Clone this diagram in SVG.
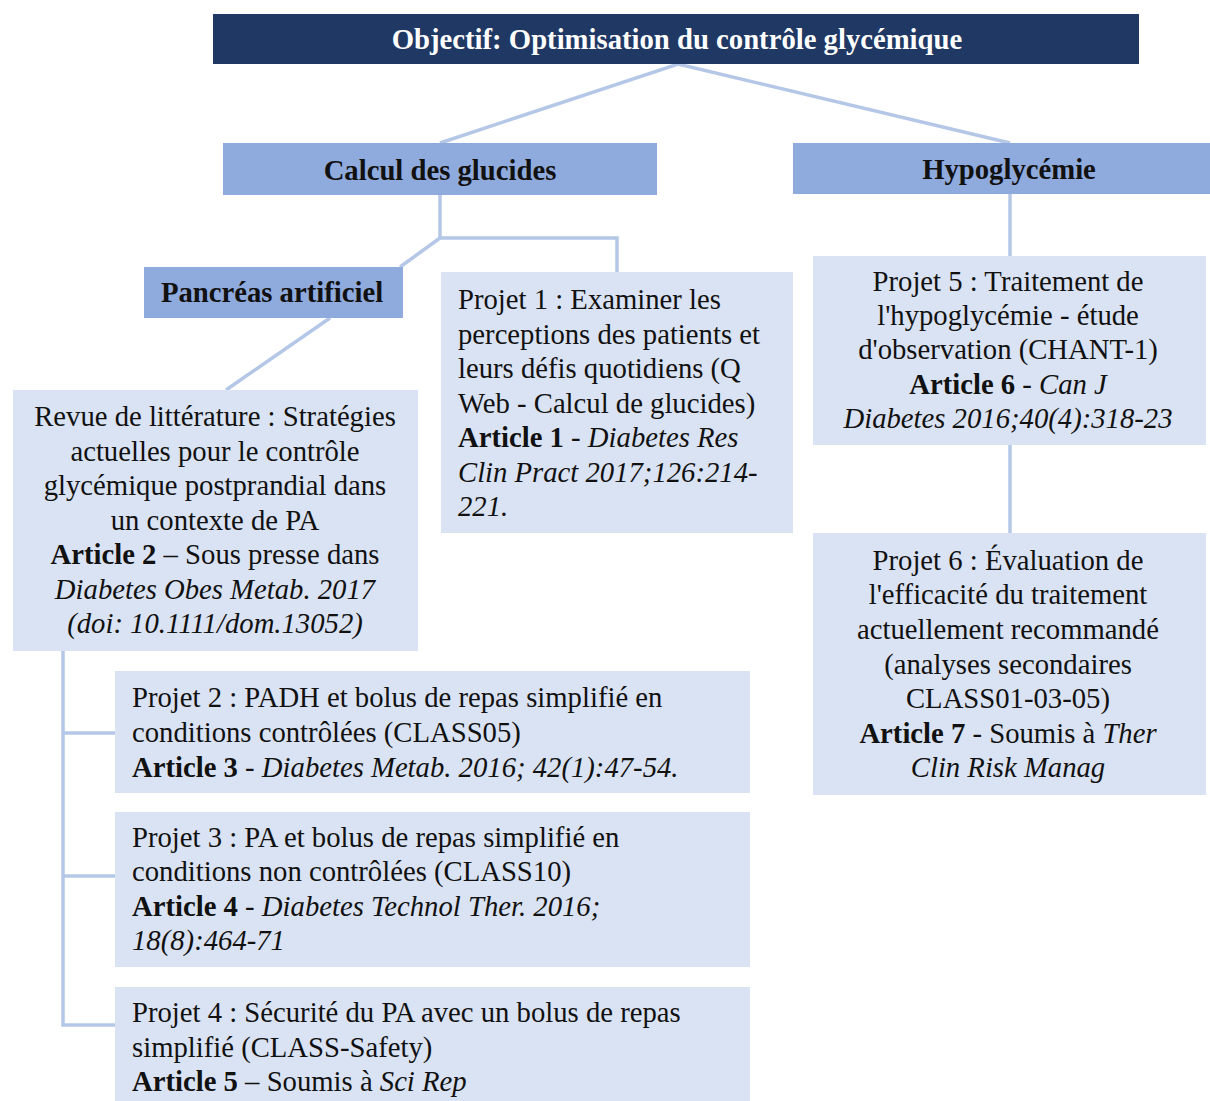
<svg xmlns="http://www.w3.org/2000/svg" width="1210" height="1101" viewBox="0 0 1210 1101">
<style>
.dark{fill:#203864}
.mid{fill:#8FAADC}
.light{fill:#DAE3F3}
.conn{stroke:#B4C7E7;stroke-width:3.5;fill:none}
text{font-family:"Liberation Serif","Times New Roman",serif;font-size:28.7px;fill:#111}
.h{font-weight:bold}
.w{fill:#fff}
.c{text-anchor:middle}
.b{font-weight:bold}
.i{font-style:italic}
</style>
<rect width="1210" height="1101" fill="#fff"/>
<g id="connectors">
<polyline class="conn" points="440,143 678,64 1010,143"/>
<polyline class="conn" points="440,195 440,238 617,238 617,272"/>
<line class="conn" x1="440" y1="238" x2="400" y2="267"/>
<line class="conn" x1="330" y1="318" x2="226" y2="390"/>
<line class="conn" x1="1010" y1="194" x2="1010" y2="256"/>
<line class="conn" x1="1010" y1="445" x2="1010" y2="533"/>
<polyline class="conn" points="63,651 63,1025 117,1025"/>
<line class="conn" x1="63" y1="733" x2="115" y2="733"/>
<line class="conn" x1="63" y1="876" x2="115" y2="876"/>
</g>
<g id="objectif">
<rect class="dark" x="213" y="14" width="926" height="50"/>
<text class="h w c" x="677" y="49">Objectif: Optimisation du contrôle glycémique</text>
</g>
<g id="calcul">
<rect class="mid" x="223" y="143" width="434" height="52"/>
<text class="h c" x="440" y="180">Calcul des glucides</text>
</g>
<g id="hypo">
<rect class="mid" x="793" y="143" width="417" height="51"/>
<text class="h c" x="1009" y="179">Hypoglycémie</text>
</g>
<g id="pancreas">
<rect class="mid" x="144" y="267" width="259" height="51"/>
<text class="h c" x="272" y="302">Pancréas artificiel</text>
</g>
<g id="projet1">
<rect class="light" x="441" y="272" width="352" height="261"/>
<text x="458" y="309">Projet 1 : Examiner les</text>
<text x="458" y="344">perceptions des patients et</text>
<text x="458" y="378">leurs défis quotidiens (Q</text>
<text x="458" y="413">Web - Calcul de glucides)</text>
<text x="458" y="447"><tspan class="b">Article 1</tspan> - <tspan class="i">Diabetes Res</tspan></text>
<text class="i" x="458" y="482">Clin Pract 2017;126:214-</text>
<text class="i" x="458" y="516">221.</text>
</g>
<g id="revue">
<rect class="light" x="13" y="390" width="405" height="261"/>
<text class="c" x="215" y="426">Revue de littérature : Stratégies</text>
<text class="c" x="215" y="461">actuelles pour le contrôle</text>
<text class="c" x="215" y="495">glycémique postprandial dans</text>
<text class="c" x="215" y="530">un contexte de PA</text>
<text class="c" x="215" y="564"><tspan class="b">Article 2</tspan> – Sous presse dans</text>
<text class="c i" x="215" y="599">Diabetes Obes Metab. 2017</text>
<text class="c i" x="215" y="633">(doi: 10.1111/dom.13052)</text>
</g>
<g id="projet5">
<rect class="light" x="813" y="256" width="393" height="189"/>
<text class="c" x="1008" y="291">Projet 5 : Traitement de</text>
<text class="c" x="1008" y="325">l'hypoglycémie - étude</text>
<text class="c" x="1008" y="359">d'observation (CHANT-1)</text>
<text class="c" x="1008" y="394"><tspan class="b">Article 6</tspan> -  <tspan class="i">Can J</tspan></text>
<text class="c i" x="1008" y="428">Diabetes 2016;40(4):318-23</text>
</g>
<g id="projet6">
<rect class="light" x="813" y="533" width="393" height="262"/>
<text class="c" x="1008" y="570">Projet 6 : Évaluation de</text>
<text class="c" x="1008" y="604">l'efficacité  du traitement</text>
<text class="c" x="1008" y="639">actuellement recommandé</text>
<text class="c" x="1008" y="674">(analyses secondaires</text>
<text class="c" x="1008" y="708">CLASS01-03-05)</text>
<text class="c" x="1008" y="743"><tspan class="b">Article 7</tspan> -  Soumis à <tspan class="i">Ther</tspan></text>
<text class="c i" x="1008" y="777">Clin Risk Manag</text>
</g>
<g id="projet2">
<rect class="light" x="115" y="671" width="635" height="122"/>
<text x="132" y="707">Projet 2 : PADH et bolus de repas simplifié  en</text>
<text x="132" y="742">conditions contrôlées (CLASS05)</text>
<text x="132" y="777"><tspan class="b">Article 3</tspan> - <tspan class="i">Diabetes Metab. 2016; 42(1):47-54.</tspan></text>
</g>
<g id="projet3">
<rect class="light" x="115" y="812" width="635" height="155"/>
<text x="132" y="847">Projet 3 : PA et bolus de repas simplifié  en</text>
<text x="132" y="881">conditions non contrôlées (CLASS10)</text>
<text x="132" y="916"><tspan class="b">Article 4</tspan> - <tspan class="i">Diabetes Technol Ther. 2016;</tspan></text>
<text class="i" x="132" y="950">18(8):464-71</text>
</g>
<g id="projet4">
<rect class="light" x="115" y="987" width="635" height="114"/>
<text x="132" y="1022">Projet 4 : Sécurité  du PA avec un bolus de repas</text>
<text x="132" y="1057">simplifié  (CLASS-Safety)</text>
<text x="132" y="1091"><tspan class="b">Article 5</tspan> – Soumis à <tspan class="i">Sci Rep</tspan></text>
</g>
</svg>
